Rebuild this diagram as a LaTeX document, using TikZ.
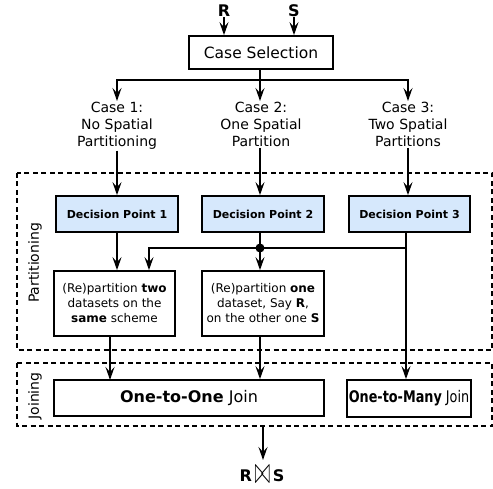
\documentclass[tikz,border=0pt]{standalone}
\usepackage{fontspec}
\setmainfont{DejaVu Sans}
\usetikzlibrary{arrows.meta}
\definecolor{dpblue}{RGB}{214,232,252}
\begin{document}
\begin{tikzpicture}[x=1pt,y=-1pt,
  ln/.style={line width=1.8pt},
  arr/.style={ln,-{Stealth[length=13pt,width=9pt,inset=5pt]}},
  box/.style={draw,line width=1.7pt,inner sep=0pt,align=center},
  dpbox/.style={box,fill=dpblue,minimum width=122pt,minimum height=36pt,font=\fontsize{11}{13}\selectfont\bfseries},
  pbox/.style={box,minimum width=121pt,minimum height=65pt,font=\fontsize{12}{15}\selectfont},
  casetxt/.style={align=center,inner sep=1pt,anchor=north,font=\fontsize{14}{17}\selectfont},
  grp/.style={draw,line width=1.7pt,dash pattern=on 5pt off 3.5pt},
  lbl/.style={font=\fontsize{16}{18}\selectfont\bfseries,inner sep=0pt}]
\useasboundingbox (0,0) rectangle (493,489);

% group frames
\draw[grp] (17,173) rectangle (492,350);
\draw[grp] (17,363) rectangle (492,426);
\node[rotate=90,font=\fontsize{14}{17}\selectfont,inner sep=0pt] (plabel) at (35,263) {Partitioning};
\node[rotate=90,font=\fontsize{14}{17}\selectfont,inner sep=0pt] (jlabel) at (35,396) {Joining};

% inputs
\node[lbl] (R) at (224,11) {R};
\node[lbl] (S) at (294,11) {S};
\node[box,minimum width=144pt,minimum height=33pt,font=\fontsize{15.5}{18}\selectfont] (cs) at (261,52.5) {Case Selection};
\draw[arr] (R.south) -- (R.south |- cs.north);
\draw[arr] (S.south) -- (S.south |- cs.north);

% cases
\node[casetxt] (c1) at (117,101) {Case 1:\\No Spatial\\Partitioning};
\node[casetxt] (c2) at (261,101) {Case 2:\\One Spatial\\Partition};
\node[casetxt] (c3) at (408,101) {Case 3:\\Two Spatial\\Partitions};
\coordinate (sp) at (260,80);
\draw[ln] (cs.south -| sp) -- (sp);
\draw[arr] (sp) -- (sp |- c2.north);
\draw[arr] (sp) -| (c1.north);
\draw[arr] (sp) -| (c3.north);

% decision points
\node[dpbox] (dp1) at (117,214) {Decision Point 1};
\node[dpbox] (dp2) at (263,214) {Decision Point 2};
\node[dpbox,minimum width=121pt] (dp3) at (409.5,214) {Decision Point 3};
\draw[arr] (c1.south) -- (dp1.north);
\draw[arr] (c2.south -| sp) -- (sp |- dp2.north);
\draw[arr] (c3.south) -- (c3.south |- dp3.north);

% partition boxes
\node[pbox] (b1) at (114.5,303.5) {(Re)partition \textbf{two}\\datasets on the\\\textbf{same} scheme};
\node[pbox,minimum width=122pt] (b2) at (263,303.5) {(Re)partition \textbf{one}\\dataset, Say \textbf{R},\\on the other one \textbf{S}};

% join boxes
\node[box,minimum width=270pt,minimum height=36pt,font=\fontsize{16}{19}\selectfont] (oo) at (189,398) {\textbf{One-to-One} Join};
\node[box,minimum width=124pt,minimum height=37pt,font=\fontsize{16}{19}\selectfont] (om) at (409,398.5) {\scalebox{0.8}[1]{\textbf{One-to-Many} Join}};

% connectors
\coordinate (dot) at (260,248);
\coordinate (x3) at (406,232);
\coordinate (lft) at (149,248);
\draw[arr] (dp1.south) -- (dp1.south |- b1.north);
\draw[ln] (dp2.south -| dot) -- (dot);
\draw[arr] (dot) -- (dot |- b2.north);
\draw[arr] (x3 |- dot) -- (lft) -- (lft |- b1.north);
\draw[arr] (x3) -- (x3 |- om.north);
\fill (dot) circle (4.5pt);
\draw[arr] (110,336) -- (110,380);
\draw[arr] (b2.south -| dot) -- (dot |- oo.north);

% result
\node[lbl] (res) at (262,475) {R\,\raisebox{-2pt}{\scalebox{1.1}[2.2]{$\bowtie$}}\,S};
\coordinate (rtop) at (263,427);
\draw[arr] (rtop) -- (rtop |- 0,460);
\end{tikzpicture}
\end{document}
